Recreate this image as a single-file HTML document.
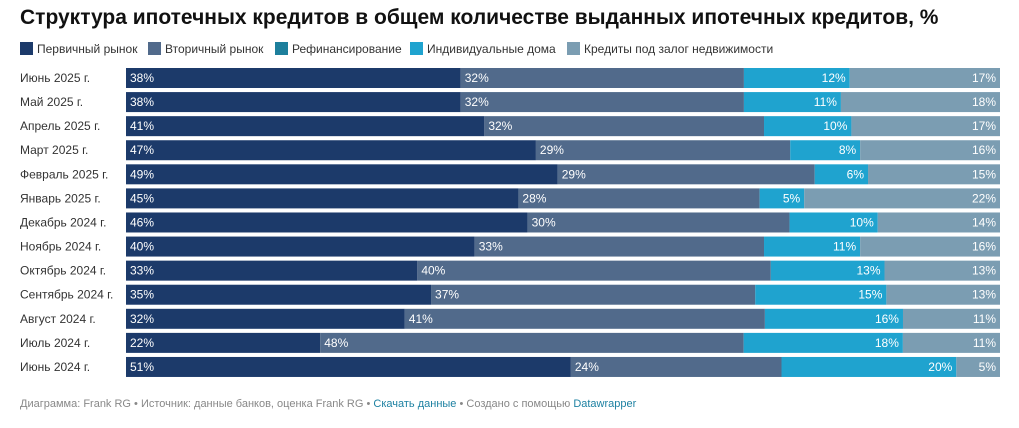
<!DOCTYPE html>
<html><head><meta charset="utf-8"><style>
body{margin:0;background:#fff;font-family:"Liberation Sans","Noto Sans CJK SC",sans-serif;}
svg text{font-family:"Liberation Sans","Noto Sans CJK SC",sans-serif;}
</style></head><body>
<svg id="c" width="1019" height="423">
<text x="20" y="24" font-size="21" font-weight="bold" fill="#111">Структура ипотечных кредитов в общем количестве выданных ипотечных кредитов, %</text>
<g id="legend"></g>
<g id="rows"></g>
<text x="20" y="407" font-size="11" fill="#888">Диаграмма: Frank RG • Источник: данные банков, оценка Frank RG • <tspan fill="#1d81a2">Скачать данные</tspan> • Создано с помощью <tspan fill="#1d81a2">Datawrapper</tspan></text>
</svg>
<script>
const categories=["Июнь 2025 г.","Май 2025 г.","Апрель 2025 г.","Март 2025 г.","Февраль 2025 г.","Январь 2025 г.","Декабрь 2024 г.","Ноябрь 2024 г.","Октябрь 2024 г.","Сентябрь 2024 г.","Август 2024 г.","Июль 2024 г.","Июнь 2024 г."];
const seriesNames=["Первичный рынок","Вторичный рынок","Рефинансирование","Индивидуальные дома","Кредиты под залог недвижимости"];
const primary=[38.3,38.3,41.0,46.9,49.4,44.9,46.0,39.9,33.3,34.9,31.9,22.2,50.9];
const secondary=[32.4,32.4,32.0,29.1,29.4,27.6,30.0,33.1,40.4,37.1,41.2,48.4,24.1];
const refinancing=[0,0,0,0,0,0,0,0,0,0,0,0,0];
const houses=[12.1,11.1,10.0,8.0,6.1,5.1,10.1,11.0,13.0,15.0,15.8,18.2,20.0];
const pledge=[17.2,18.2,17.0,16.0,15.1,22.4,14.0,16.0,13.2,13.0,11.1,11.1,5.0];
const colors=["#1c3a6a","#516a8b","#1d7f9c","#1fa3cf","#7b9db2"];
const NS="http://www.w3.org/2000/svg";
function mk(t,a,p){const e=document.createElementNS(NS,t);for(const k in a)e.setAttribute(k,a[k]);p.appendChild(e);return e;}
const lg=document.getElementById('legend');
const lx=[20,148,275,410,567];
seriesNames.forEach((n,i)=>{
 const r=mk('rect',{x:lx[i],y:42,width:13,height:13,fill:colors[i]},lg);
 
 
 const t=mk('text',{x:lx[i]+17,y:53,'font-size':12,fill:'#333'},lg);
 t.textContent=n;
 
 
});
const X0=126,W=874,Y0=68,PITCH=24.08,BH=20;
function xs(v,tot){return v/tot*W;}
const g=document.getElementById('rows');
const series=[primary,secondary,refinancing,houses,pledge];
categories.forEach((c,i)=>{
 const y=Y0+i*PITCH;
 const lab=mk('text',{x:20,y:y+14,'font-size':12,fill:'#333'},g);
 lab.textContent=c;
 
 
 const tot=series.reduce((s,a)=>s+a[i],0);
 let x=X0;
 series.forEach((a,j)=>{
  const w=xs(a[i],tot);
  if(w<=0)return;
  const r=mk('rect',{x:x,y:y,width:w,height:BH,fill:colors[j]},g);
  
  
  const right=j>=3;
  const t=mk('text',{x:right?x+w-4:x+4,y:y+14,'font-size':12,fill:'#fff','text-anchor':right?'end':'start'},g);
  t.textContent=Math.round(a[i])+'%';
  
  
  x+=w;
 });
});
</script>
</body></html>
